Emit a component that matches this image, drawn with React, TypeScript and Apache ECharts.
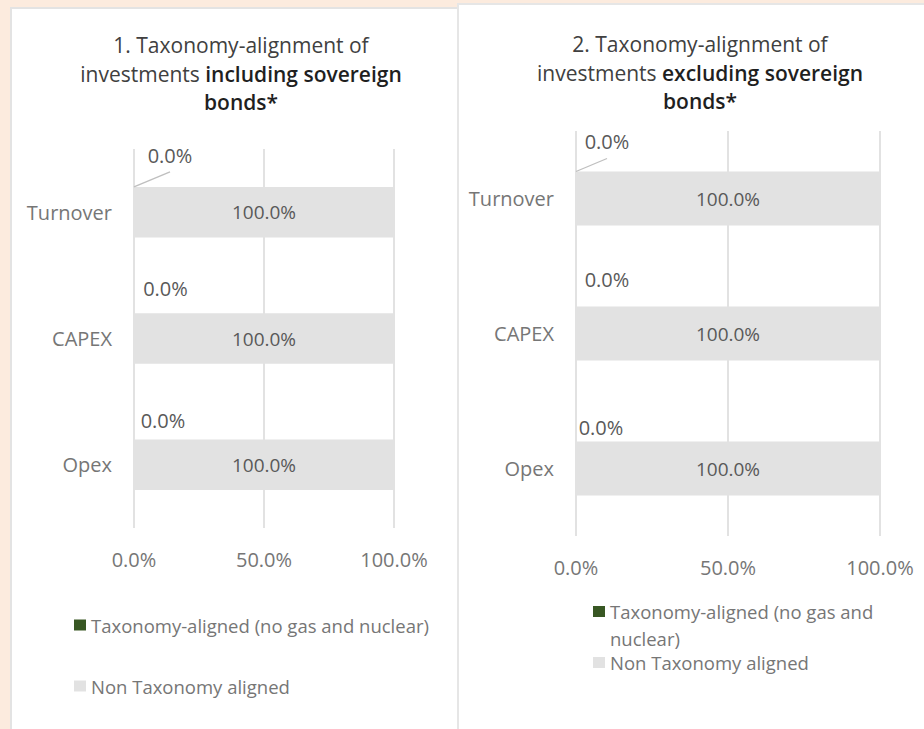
import React, { useEffect, useRef } from 'react';
import * as echarts from 'echarts';

// ---- data ----
const categories = ['Turnover', 'CAPEX', 'Opex'];
const seriesNames = ['Taxonomy-aligned (no gas and nuclear)', 'Non Taxonomy aligned'];
const alignedIncl = [0, 0, 0];
const nonAlignedIncl = [100, 100, 100];
const alignedExcl = [0, 0, 0];
const nonAlignedExcl = [100, 100, 100];
const xTicks = [0, 50, 100];

// ---- layout / style ----
const FONT = '"Open Sans", "Noto Sans", sans-serif';
const GREEN = '#385723';
const GREY_BAR = '#e2e2e2';
const AXIS_TEXT = '#767676';
const LABEL_TEXT = '#595959';
const labelOffsetsIncl = [[36, -16], [31.5, -9.5], [29, -4]];
const labelOffsetsExcl = [[31, -15.5], [31, -12.5], [25, 0.5]];

const fmt = (v: number) => v.toFixed(1) + '%';

function axisPair(gridIndex: number) {
  const x = {
    type: 'value',
    gridIndex,
    min: xTicks[0],
    max: xTicks[xTicks.length - 1],
    interval: xTicks[1] - xTicks[0],
    axisLine: { show: false },
    axisTick: { show: false },
    axisLabel: {
      formatter: (v: number) => fmt(v),
      fontFamily: FONT,
      fontSize: 20,
      color: AXIS_TEXT,
      margin: 21,
    },
    splitLine: { show: true, lineStyle: { color: '#d9d9d9', width: 1.5 } },
  };
  const y = {
    type: 'category',
    gridIndex,
    data: categories,
    inverse: true,
    axisLine: { show: false },
    axisTick: { show: false },
    axisLabel: { fontFamily: FONT, fontSize: 20, color: AXIS_TEXT, margin: 22 },
    splitLine: { show: false },
  };
  return { x, y };
}

function seriesPair(idx: number, aligned: number[], nonAligned: number[], offsets: number[][]) {
  return [
    {
      type: 'bar',
      name: seriesNames[0],
      xAxisIndex: idx,
      yAxisIndex: idx,
      stack: 's' + idx,
      barWidth: '40%',
      itemStyle: { color: GREEN },
      label: {
        show: true,
        position: 'top',
        distance: 5,
        formatter: (p: any) => fmt(p.value),
        fontFamily: FONT,
        fontSize: 20,
        color: LABEL_TEXT,
      },
      data: aligned.map((v, i) => ({ value: v, label: { offset: offsets[i] } })),
    },
    {
      type: 'bar',
      name: seriesNames[1],
      xAxisIndex: idx,
      yAxisIndex: idx,
      stack: 's' + idx,
      barWidth: '40%',
      itemStyle: { color: GREY_BAR },
      label: {
        show: true,
        position: 'inside',
        formatter: (p: any) => fmt(p.value),
        fontFamily: FONT,
        fontSize: 19,
        color: LABEL_TEXT,
      },
      data: nonAligned,
    },
  ];
}

function titleRich() {
  return {
    n: { fontFamily: FONT, fontSize: 21, fontWeight: 'normal', color: '#404040', lineHeight: 28.5 },
    b: { fontFamily: FONT, fontSize: 21, fontWeight: 600, color: '#1f1f1f', lineHeight: 28.5 },
  };
}

function legend(name: string, left: number, top: number, extra: any = {}, formatter?: any) {
  return {
    data: [name],
    left,
    top,
    orient: 'vertical',
    padding: 0,
    icon: 'rect',
    itemWidth: 12,
    itemHeight: 11,
    itemGap: 5,
    selectedMode: false,
    formatter,
    textStyle: {
      fontFamily: FONT,
      fontSize: 18.5,
      color: AXIS_TEXT,
      lineHeight: 27,
      ...extra,
    },
  };
}

export default function App() {
  const ref = useRef<HTMLDivElement>(null);
  useEffect(() => {
    if (!ref.current) return;
    const chart = echarts.init(ref.current, null, { renderer: 'svg', width: 924, height: 729 });
    const a0 = axisPair(0);
    const a1 = axisPair(1);
    chart.setOption({
      animation: false,
      title: [
        {
          text: '{n|1. Taxonomy-alignment of}\n{n|investments }{b|including sovereign}\n{b|bonds*}',
          left: 241,
          top: 31,
          textAlign: 'center',
          padding: 0,
          textStyle: { fontWeight: 'normal', rich: titleRich() },
        },
        {
          text: '{n|2. Taxonomy-alignment of}\n{n|investments }{b|excluding sovereign}\n{b|bonds*}',
          left: 700,
          top: 30,
          textAlign: 'center',
          padding: 0,
          textStyle: { fontWeight: 'normal', rich: titleRich() },
        },
      ],
      grid: [
        { left: 134, top: 149, width: 260, height: 379, containLabel: false },
        { left: 576, top: 131, width: 304, height: 405, containLabel: false },
      ],
      xAxis: [a0.x, a1.x],
      yAxis: [a0.y, a1.y],
      legend: [
        legend(seriesNames[0], 74, 611.5),
        legend(seriesNames[1], 74, 672.5),
        legend(seriesNames[0], 593, 571, { width: 280, overflow: 'break' }, (n: string) => '\n' + n),
        legend(seriesNames[1], 593, 649),
      ],
      series: [
        ...seriesPair(0, alignedIncl, nonAlignedIncl, labelOffsetsIncl),
        ...seriesPair(1, alignedExcl, nonAlignedExcl, labelOffsetsExcl),
      ],
    });

    // leader lines for the moved "Turnover" labels, anchored via the axes' scales
    const lines: any[] = [];
    [
      { g: 0, d: [36, -15] },
      { g: 1, d: [31, -13] },
    ].forEach(({ g, d }) => {
      const p0 = chart.convertToPixel({ gridIndex: g }, [0, categories[0]]) as number[];
      const p1 = chart.convertToPixel({ gridIndex: g }, [0, categories[1]]) as number[];
      const band = p1[1] - p0[1];
      const x1 = p0[0];
      const y1 = p0[1] - band * 0.2;
      lines.push({
        type: 'line',
        shape: { x1, y1, x2: x1 + d[0], y2: y1 + d[1] },
        style: { stroke: '#bfbfbf', lineWidth: 1.3 },
        z: 10,
      });
    });
    chart.setOption({ graphic: lines });

    return () => chart.dispose();
  }, []);

  return (
    <div style={{ position: 'absolute', left: 0, top: 0, width: 924, height: 729, overflow: 'hidden', background: '#fcebde' }}>
      <div style={{ position: 'absolute', left: 10, top: 7, width: 445, height: 740, background: '#fff', border: '2px solid #e3e3e3' }} />
      <div style={{ position: 'absolute', left: 457, top: 3, width: 480, height: 740, background: '#fff', border: '2px solid #e6e6e6' }} />
      <div ref={ref} style={{ position: 'absolute', left: 0, top: 0, width: 924, height: 729 }} />
    </div>
  );
}
